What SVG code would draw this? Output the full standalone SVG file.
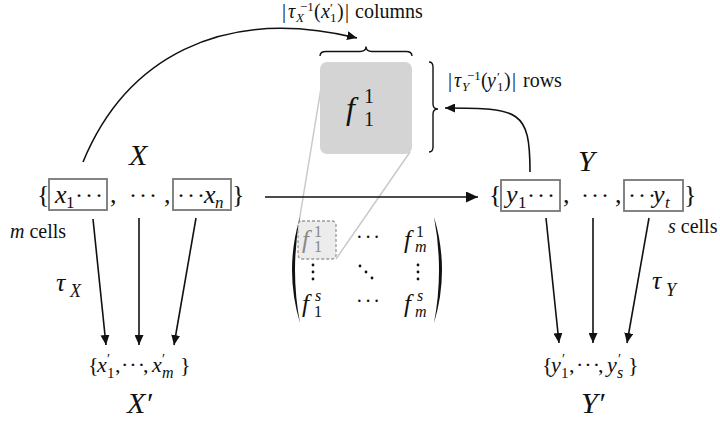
<svg xmlns="http://www.w3.org/2000/svg" width="720" height="423" viewBox="0 0 720 423" font-family="'Liberation Serif','Times New Roman',serif">
<style>
.t{font-family:"Liberation Serif","Times New Roman",serif;fill:#111}
.i{font-style:italic}
.b{fill:none;stroke:#777;stroke-width:1.8}
.ln{fill:none;stroke:#111;stroke-width:1.6}
.guide{stroke:#c9c9c9;stroke-width:1.5;fill:none}
.gr{fill:#888}
</style>
<defs>
<marker id="ah" markerUnits="userSpaceOnUse" markerWidth="10" markerHeight="9" refX="10" refY="4.5" orient="auto"><path d="M0,0 L10,4.5 L0,9 Z" fill="#111"/></marker>
<marker id="ahb" markerUnits="userSpaceOnUse" markerWidth="12" markerHeight="11" refX="12" refY="5.5" orient="auto"><path d="M0,0 L12,5.5 L0,11 Z" fill="#111"/></marker>
</defs>
<rect width="720" height="423" fill="#fff"/>

<g id="guides">
<line class="guide" x1="325" y1="64" x2="299" y2="222"/>
<line class="guide" x1="410" y1="152" x2="336" y2="259"/>
</g>

<g id="block">
<rect x="320" y="62" width="92" height="92" rx="7" fill="#d4d4d4"/>
<text class="t i" x="346" y="119" font-size="32">f</text>
<text class="t" x="364" y="103" font-size="20">1</text>
<text class="t" x="364" y="126" font-size="20">1</text>
<path d="M320,56 Q320,51.5 326,51.5 L360,51.5 Q366,51.5 366,46.5 Q366,51.5 372,51.5 L406,51.5 Q412,51.5 412,56" fill="none" stroke="#111" stroke-width="1.4"/>
<path d="M429,62 Q433,62 433,67 L433,104 Q433,109 438,109 Q433,109 433,114 L433,147 Q433,152 429,152" fill="none" stroke="#111" stroke-width="1.4"/>
</g>

<g id="col-label" class="t" font-size="20">
<text x="282" y="18">|</text>
<text class="i" x="288" y="18">τ</text>
<text class="i" x="296" y="22" font-size="13">X</text>
<text x="300" y="11" font-size="13">−1</text>
<text x="314" y="18">(</text>
<text class="i" x="321" y="18">x</text>
<text x="330" y="12" font-size="13">′</text>
<text x="330" y="22" font-size="13">1</text>
<text x="337" y="18">)</text>
<text x="345" y="18">|</text>
<text x="355" y="18">columns</text>
</g>

<g id="row-label" class="t" font-size="20">
<text x="448" y="87">|</text>
<text class="i" x="454" y="87">τ</text>
<text class="i" x="462" y="91" font-size="13">Y</text>
<text x="467" y="80" font-size="13">−1</text>
<text x="481" y="87">(</text>
<text class="i" x="487" y="87">y</text>
<text x="497" y="81" font-size="13">′</text>
<text x="497" y="91" font-size="13">1</text>
<text x="504" y="87">)</text>
<text x="512" y="87">|</text>
<text x="523" y="87">rows</text>
</g>

<g id="X">
<text class="t i" x="129" y="165" font-size="30">X</text>
<text class="t" x="37" y="203" font-size="26">{</text>
<rect class="b" x="49" y="179" width="58" height="31"/>
<text class="t i" x="55" y="203" font-size="26">x</text>
<text class="t" x="66" y="208" font-size="17">1</text>
<text class="t" x="75" y="203" font-size="24" letter-spacing="2">···</text>
<text class="t" x="110" y="203" font-size="26">,</text>
<text class="t" x="129" y="203" font-size="24" letter-spacing="2">···</text>
<text class="t" x="164" y="203" font-size="26">,</text>
<rect class="b" x="173" y="179" width="58" height="31"/>
<text class="t" x="177" y="203" font-size="24" letter-spacing="2">···</text>
<text class="t i" x="204" y="203" font-size="26">x</text>
<text class="t i" x="215" y="208" font-size="17">n</text>
<text class="t" x="232" y="203" font-size="26">}</text>
<text class="t" x="10" y="238" font-size="20"><tspan class="i">m</tspan> cells</text>
<text class="t i" x="56" y="291" font-size="26">τ</text>
<text class="t i" x="70" y="297" font-size="18">X</text>
</g>

<g id="Xp" class="t" font-size="22">
<text x="88" y="372">{</text>
<text class="i" x="97" y="372">x</text>
<text x="107" y="364" font-size="14">′</text>
<text x="107" y="378" font-size="15">1</text>
<text x="115" y="372">,</text>
<text x="121" y="372" letter-spacing="1">···</text>
<text x="143" y="372">,</text>
<text class="i" x="152" y="372">x</text>
<text x="162" y="364" font-size="14">′</text>
<text class="i" x="162" y="378" font-size="16">m</text>
<text x="180" y="372">}</text>
<text class="i" x="127" y="413" font-size="30">X′</text>
</g>

<g id="Y">
<text class="t i" x="578" y="171" font-size="30">Y</text>
<text class="t" x="489" y="203" font-size="26">{</text>
<rect class="b" x="501" y="180" width="59" height="31"/>
<text class="t i" x="506" y="203" font-size="26">y</text>
<text class="t" x="518" y="208" font-size="17">1</text>
<text class="t" x="527" y="203" font-size="24" letter-spacing="2">···</text>
<text class="t" x="563" y="203" font-size="26">,</text>
<text class="t" x="581" y="203" font-size="24" letter-spacing="2">···</text>
<text class="t" x="615" y="203" font-size="26">,</text>
<rect class="b" x="624" y="180" width="59" height="31"/>
<text class="t" x="628" y="203" font-size="24" letter-spacing="2">···</text>
<text class="t i" x="653" y="203" font-size="26">y</text>
<text class="t i" x="665" y="208" font-size="17">t</text>
<text class="t" x="684" y="203" font-size="26">}</text>
<text class="t" x="668" y="233" font-size="20"><tspan class="i">s</tspan> cells</text>
<text class="t i" x="652" y="289" font-size="26">τ</text>
<text class="t i" x="666" y="296" font-size="18">Y</text>
</g>

<g id="Yp" class="t" font-size="22">
<text x="542" y="372">{</text>
<text class="i" x="551" y="372">y</text>
<text x="562" y="364" font-size="14">′</text>
<text x="561" y="378" font-size="15">1</text>
<text x="569" y="372">,</text>
<text x="576" y="372" letter-spacing="1">···</text>
<text x="598" y="372">,</text>
<text class="i" x="607" y="372">y</text>
<text x="618" y="364" font-size="14">′</text>
<text class="i" x="617" y="378" font-size="16">s</text>
<text x="628" y="372">}</text>
<text class="i" x="581" y="413" font-size="30">Y′</text>
</g>

<g id="matrix">
<path d="M300,217 Q284,270 300,323 Q290,270 300,217 Z" fill="#111"/>
<path d="M434,217 Q450,270 434,323 Q444,270 434,217 Z" fill="#111"/>
<rect x="298" y="221" width="38" height="38" rx="4" fill="#ececec" stroke="#999" stroke-width="1.3" stroke-dasharray="3,2"/>
<text class="t i gr" x="302" y="248" font-size="25">f</text>
<text class="t gr" x="314" y="237" font-size="16">1</text>
<text class="t gr" x="314" y="252" font-size="16">1</text>
<text class="t" x="356" y="244" font-size="20" letter-spacing="2">···</text>
<text class="t i" x="404" y="248" font-size="25">f</text>
<text class="t" x="416" y="237" font-size="16">1</text>
<text class="t i" x="415" y="252" font-size="16">m</text>
<g fill="#111">
<circle cx="313" cy="265" r="1.4"/><circle cx="313" cy="272" r="1.4"/><circle cx="313" cy="279" r="1.4"/>
<circle cx="360" cy="266" r="1.4"/><circle cx="366" cy="272" r="1.4"/><circle cx="372" cy="278" r="1.4"/>
<circle cx="418" cy="265" r="1.4"/><circle cx="418" cy="272" r="1.4"/><circle cx="418" cy="279" r="1.4"/>
</g>
<text class="t i" x="302" y="312" font-size="25">f</text>
<text class="t i" x="315" y="301" font-size="16">s</text>
<text class="t" x="314" y="317" font-size="16">1</text>
<text class="t" x="356" y="308" font-size="20" letter-spacing="2">···</text>
<text class="t i" x="404" y="312" font-size="25">f</text>
<text class="t i" x="417" y="301" font-size="16">s</text>
<text class="t i" x="415" y="317" font-size="16">m</text>
</g>

<g id="connectors">
<path class="ln" d="M83,162 C125,60 220,5 357,38" stroke-width="1.8" marker-end="url(#ah)"/>
<path class="ln" d="M530,172 C530,110 520,108 445,108" stroke-width="1.8" marker-end="url(#ah)"/>
<line class="ln" x1="265" y1="197" x2="478" y2="197" stroke-width="2.6" marker-end="url(#ahb)"/>
<line class="ln" x1="93" y1="219" x2="106" y2="345" marker-end="url(#ah)"/>
<line class="ln" x1="139" y1="218" x2="139" y2="345" marker-end="url(#ah)"/>
<line class="ln" x1="196" y1="218" x2="174" y2="345" marker-end="url(#ah)"/>
<line class="ln" x1="546" y1="218" x2="559" y2="343" marker-end="url(#ah)"/>
<line class="ln" x1="593" y1="218" x2="593" y2="343" marker-end="url(#ah)"/>
<line class="ln" x1="649" y1="218" x2="627" y2="343" marker-end="url(#ah)"/>
</g>
</svg>
